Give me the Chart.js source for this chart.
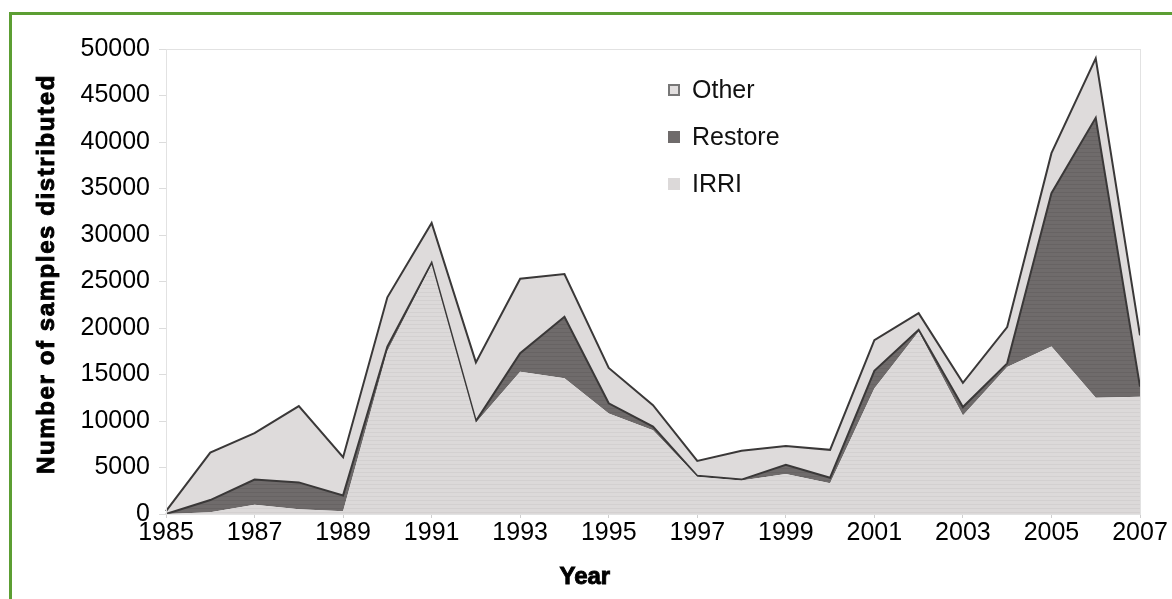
<!DOCTYPE html>
<html>
<head>
<meta charset="utf-8">
<script src="https://cdn.jsdelivr.net/npm/chart.js@4/dist/chart.umd.min.js"></script>
<style>
  html, body { margin: 0; padding: 0; background: #fff; }
  #wrap { position: relative; width: 1172px; height: 599px; overflow: hidden; }
  #frame { position: absolute; left: 9px; top: 12px; width: 1200px; height: 700px;
           border-top: 3px solid #5c9e33; border-left: 3px solid #5c9e33; }
  #legend { position: absolute; left: 668px; top: 66px; font-family: "Liberation Sans", Arial, sans-serif;
            font-size: 25px; color: #111; }
  #legend .row { height: 47px; display: flex; align-items: center; }
  #legend .box { width: 12px; height: 12px; margin-right: 12px; box-sizing: border-box; }
</style>
</head>
<body>
<div id="wrap">
  <div id="frame"></div>
  <canvas id="chart" width="1172" height="599"></canvas>
  <div id="legend"></div>
</div>
<script>
const years = ['1985','1986','1987','1988','1989','1990','1991','1992','1993','1994','1995','1996',
               '1997','1998','1999','2000','2001','2002','2003','2004','2005','2006','2007'];
const irri    = [0, 200, 1000, 500, 300, 17500, 26800, 9800, 15300, 14600, 10800, 9000,
                 4000, 3600, 4300, 3300, 13500, 19600, 10600, 15800, 18000, 12500, 12600];
const restore = [0, 1300, 2700, 2900, 1700, 500, 200, 200, 2000, 6600, 1100, 400,
                 100, 100, 1000, 600, 1900, 200, 900, 400, 16500, 30100, 1100];
const other   = [300, 5100, 5000, 8200, 4100, 5300, 4300, 6300, 8000, 4600, 3800, 2300,
                 1600, 3100, 2000, 3000, 3300, 1800, 2600, 3900, 4300, 6400, 5500];
const yTicks = [0, 5000, 10000, 15000, 20000, 25000, 30000, 35000, 40000, 45000, 50000];

// faint horizontal stripes like the scanned fill
function stripes(base, line) {
  const c = document.createElement('canvas');
  c.width = 4; c.height = 4;
  const g = c.getContext('2d');
  g.fillStyle = base; g.fillRect(0, 0, 4, 4);
  g.fillStyle = line; g.fillRect(0, 0, 4, 1);
  return g.createPattern(c, 'repeat');
}
const irriFill = stripes('#dcd9d9', '#d3d0d0');
const restoreFill = stripes('#6f6b6b', '#676363');

const FONT = '"Liberation Sans", Arial, sans-serif';

const titles = {
  id: 'titles',
  afterDraw(chart) {
    const ctx = chart.ctx, a = chart.chartArea;
    ctx.save();
    ctx.fillStyle = '#000';
    ctx.strokeStyle = '#000';
    ctx.lineWidth = 0.9;
    ctx.font = 'bold 24px ' + FONT;
    ctx.textAlign = 'center';
    ctx.textBaseline = 'middle';
    const yx = a.left + (a.right - a.left) * 0.43;
    ctx.fillText('Year', yx, 577);
    ctx.strokeText('Year', yx, 577);
    ctx.translate(47, 274);
    ctx.rotate(-Math.PI / 2);
    ctx.letterSpacing = '1.6px';
    ctx.fillText('Number of samples distributed', 0, 0);
    ctx.strokeText('Number of samples distributed', 0, 0);
    ctx.restore();
    // light frame round the plot
    ctx.save();
    ctx.strokeStyle = '#e2e2e2';
    ctx.lineWidth = 1;
    ctx.strokeRect(a.left + 0.5, a.top + 0.5, a.right - a.left, a.bottom - a.top);
    ctx.restore();
  }
};

const chart = new Chart(document.getElementById('chart'), {
  type: 'line',
  data: {
    labels: years,
    datasets: [
      { label: 'IRRI', data: irri, backgroundColor: irriFill, borderWidth: 0, fill: 'origin', legendColor: '#dcd9d9' },
      { label: 'Restore', data: restore, backgroundColor: restoreFill, borderColor: '#3a3838', borderWidth: 2, fill: '-1', legendColor: '#6f6b6b' },
      { label: 'Other', data: other, backgroundColor: '#dedbdb', borderColor: '#3a3838', borderWidth: 2, fill: '-1', legendColor: '#e2dfdf' }
    ]
  },
  options: {
    responsive: false,
    animation: false,
    elements: { point: { radius: 0 }, line: { tension: 0 } },
    layout: { padding: { top: 49, right: 32, left: 0, bottom: 0 } },
    plugins: { legend: { display: false }, tooltip: { enabled: false } },
    scales: {
      x: {
        offset: false,
        border: { color: '#dcdcdc' },
        grid: {
          drawOnChartArea: false, tickLength: 4,
          color: ctx => ctx.index % 2 === 0 ? '#cfcfcf' : 'rgba(0,0,0,0)'
        },
        ticks: {
          autoSkip: false, maxRotation: 0, padding: 0, color: '#000',
          font: { family: FONT, size: 25 },
          callback: (v, i) => i % 2 === 0 ? years[i] : ''
        },
        afterFit: s => { s.height = 85; }
      },
      y: {
        stacked: true, min: 0, max: 50000,
        border: { color: '#dcdcdc' },
        grid: { drawOnChartArea: false, tickLength: 7, color: '#dcdcdc' },
        afterBuildTicks: s => { s.ticks = yTicks.map(v => ({ value: v })); },
        ticks: { padding: 9, color: '#000', font: { family: FONT, size: 25 }, callback: v => String(v) },
        afterFit: s => { s.width = 166; }
      }
    }
  },
  plugins: [titles]
});

// legend, top layer first
const legend = document.getElementById('legend');
chart.data.datasets.slice().reverse().forEach(ds => {
  const row = document.createElement('div');
  row.className = 'row';
  const box = document.createElement('span');
  box.className = 'box';
  box.style.background = ds.legendColor;
  if (ds.label === 'Other') box.style.border = '2px solid #777';
  row.appendChild(box);
  row.appendChild(document.createTextNode(ds.label));
  legend.appendChild(row);
});
</script>
</body>
</html>
